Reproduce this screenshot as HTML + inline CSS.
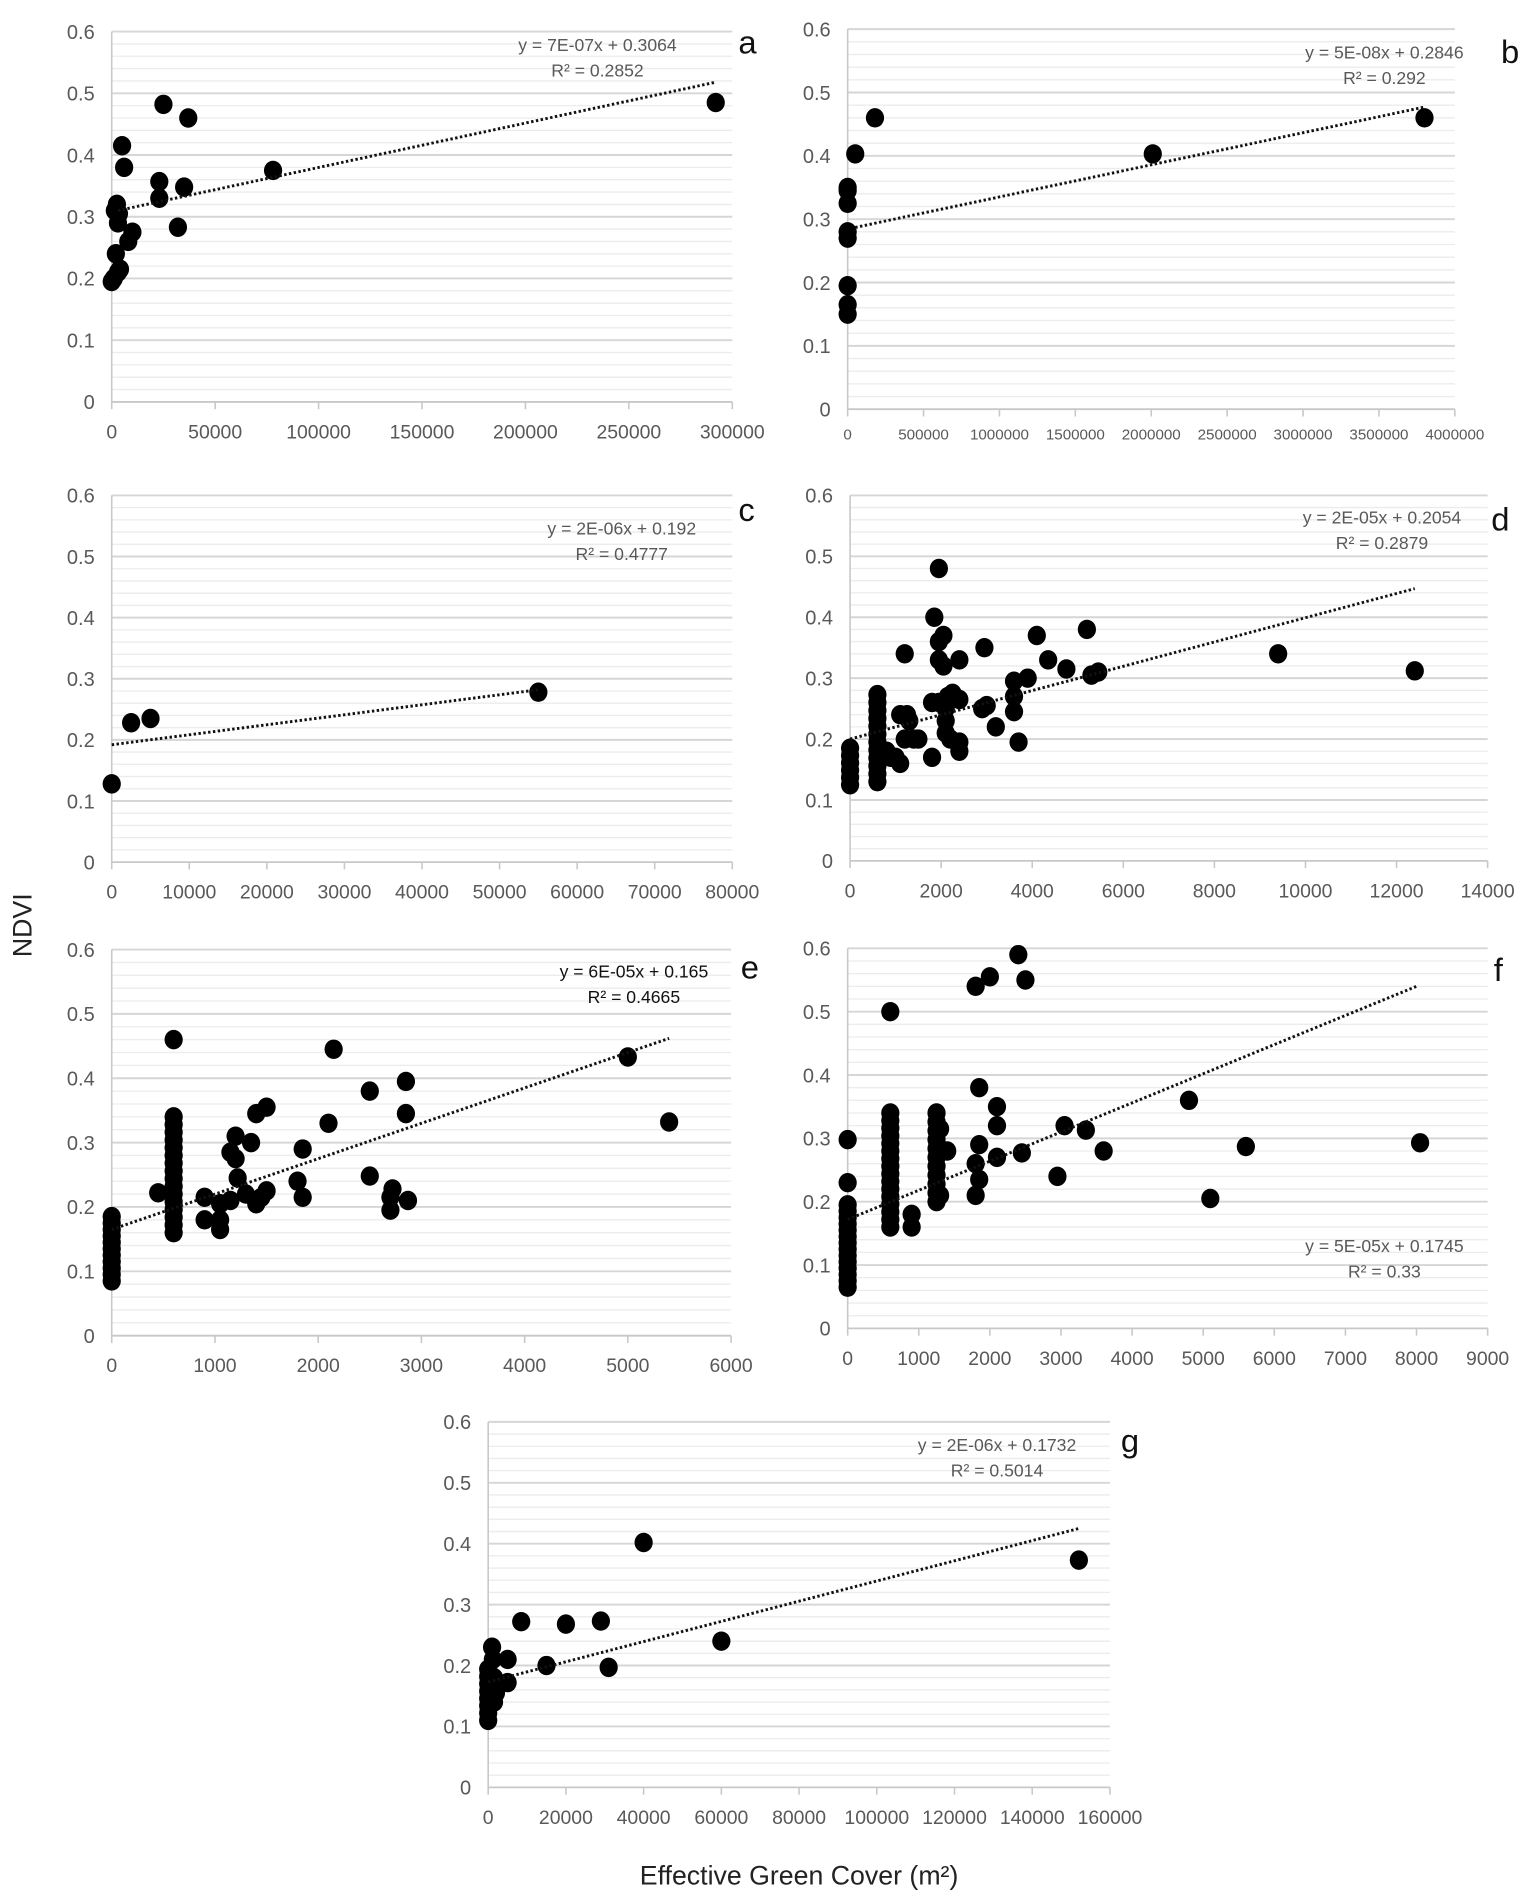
<!DOCTYPE html>
<html><head><meta charset="utf-8">
<style>
html,body{margin:0;padding:0;background:#fff;}
svg{display:block;}
text{font-family:"Liberation Sans",sans-serif;}
</style></head>
<body>
<svg id="s" width="1535" height="1893" viewBox="0 0 1264 1559" preserveAspectRatio="none" xmlns="http://www.w3.org/2000/svg">
<text x="0" y="0" transform="translate(26,762) rotate(-90)" font-size="22" fill="#222" text-anchor="middle">NDVI</text>
<text x="658" y="1552" font-size="22" fill="#222" text-anchor="middle">Effective Green Cover (m²)</text>
</svg>
<script>
var NS="http://www.w3.org/2000/svg",S=document.getElementById('s');
function el(t,a,txt){var e=document.createElementNS(NS,t);for(var k in a)e.setAttribute(k,a[k]);if(txt!=null)e.textContent=txt;S.appendChild(e);return e;}
function col(x,lo,hi,st){var r=[];for(var v=lo;v<=hi+1e-9;v+=st)r.push([x,v]);return r;}
var P=[
{x0:92,x1:603,y6:26,y0:331,xmax:300000,xs:50000,fs:16,eq:["y = 7E-07x + 0.3064","R² = 0.2852"],ex:492,ey:42,L:"a",lx:608,ly:44,
 tr:[3000,0.31,292000,0.518],
 pts:[[0,0.195],[1000,0.2],[2000,0.24],[1500,0.31],[2500,0.32],[3000,0.29],[3500,0.305],[3000,0.21],[4000,0.215],[5000,0.415],[6000,0.38],[8000,0.26],[10000,0.275],[23000,0.33],[23000,0.357],[25000,0.482],[32000,0.283],[35000,0.348],[37000,0.46],[78000,0.375],[292000,0.485]]},
{x0:698,x1:1198,y6:24,y0:337,xmax:4000000,xs:500000,fs:12.5,eq:["y = 5E-08x + 0.2846","R² = 0.292"],ex:1140,ey:48,L:"b",lx:1236,ly:52,
 tr:[50000,0.287,3800000,0.477],
 pts:[[0,0.15],[0,0.165],[0,0.195],[0,0.27],[0,0.28],[0,0.325],[0,0.345],[0,0.35],[50000,0.403],[180000,0.46],[2010000,0.403],[3800000,0.46]]},
{x0:92,x1:603,y6:408,y0:710,xmax:80000,xs:10000,fs:16,eq:["y = 2E-06x + 0.192","R² = 0.4777"],ex:512,ey:440,L:"c",lx:608,ly:429,
 tr:[0,0.192,55000,0.282],
 pts:[[0,0.128],[2500,0.228],[5000,0.235],[55000,0.278]]},
{x0:700,x1:1225,y6:408,y0:709,xmax:14000,xs:2000,fs:16,eq:["y = 2E-05x + 0.2054","R² = 0.2879"],ex:1138,ey:431,L:"d",lx:1228,ly:437,
 tr:[0,0.2,12400,0.447],
 pts:[].concat(col(0,0.125,0.195,0.012),col(600,0.13,0.285,0.013),[[800,0.18],[900,0.17],[1000,0.17],[1100,0.16],[1100,0.24],[1200,0.34],[1200,0.2],[1250,0.24],[1300,0.23],[1400,0.2],[1500,0.2],[1800,0.17],[1800,0.26],[1850,0.4],[1950,0.48],[1950,0.36],[1950,0.33],[1950,0.26],[2050,0.37],[2050,0.32],[2100,0.25],[2100,0.23],[2100,0.21],[2150,0.27],[2200,0.2],[2250,0.275],[2400,0.18],[2400,0.195],[2400,0.265],[2400,0.33],[2900,0.25],[2950,0.35],[3000,0.255],[3200,0.22],[3600,0.27],[3600,0.245],[3600,0.295],[3700,0.195],[3900,0.3],[4100,0.37],[4350,0.33],[4750,0.315],[5200,0.38],[5300,0.305],[5450,0.31],[9400,0.34],[12400,0.312]])},
{x0:92,x1:602,y6:782,y0:1100,xmax:6000,xs:1000,fs:16,eq:["y = 6E-05x + 0.165","R² = 0.4665"],ex:522,ey:805,dark:1,L:"e",lx:610,ly:806,
 tr:[0,0.165,5400,0.462],
 pts:[].concat(col(0,0.085,0.185,0.01),col(600,0.16,0.34,0.012),[[450,0.222],[600,0.46],[900,0.215],[900,0.18],[1050,0.165],[1050,0.18],[1050,0.205],[1150,0.21],[1150,0.285],[1200,0.31],[1200,0.275],[1220,0.245],[1300,0.22],[1350,0.3],[1400,0.205],[1400,0.345],[1450,0.215],[1500,0.355],[1500,0.225],[1800,0.24],[1850,0.29],[1850,0.215],[2100,0.33],[2150,0.445],[2500,0.38],[2500,0.248],[2700,0.215],[2700,0.195],[2720,0.228],[2850,0.395],[2850,0.345],[2870,0.21],[5000,0.433],[5400,0.332]])},
{x0:698,x1:1225,y6:781,y0:1094,xmax:9000,xs:1000,fs:16,eq:["y = 5E-05x + 0.1745","R² = 0.33"],ex:1140,ey:1031,L:"f",lx:1230,ly:808,
 tr:[0,0.172,8000,0.54],
 pts:[].concat(col(0,0.065,0.2,0.01),col(600,0.16,0.345,0.012),col(1250,0.2,0.34,0.014),[[0,0.23],[0,0.298],[600,0.5],[900,0.16],[900,0.18],[1300,0.21],[1300,0.315],[1400,0.28],[1800,0.21],[1800,0.26],[1800,0.54],[1850,0.38],[1850,0.29],[1850,0.235],[2000,0.555],[2100,0.35],[2100,0.32],[2100,0.27],[2400,0.59],[2500,0.55],[2450,0.277],[2950,0.24],[3050,0.32],[3350,0.313],[3600,0.28],[4800,0.36],[5100,0.205],[5600,0.287],[8050,0.293]])},
{x0:402,x1:914,y6:1171,y0:1472,xmax:160000,xs:20000,fs:16,eq:["y = 2E-06x + 0.1732","R² = 0.5014"],ex:821,ey:1195,L:"g",lx:923,ly:1196,
 tr:[0,0.173,152000,0.425],
 pts:[].concat(col(0,0.11,0.2,0.012),[[1000,0.23],[1200,0.21],[1500,0.14],[2000,0.155],[1500,0.18],[5000,0.21],[5000,0.172],[8500,0.272],[15000,0.2],[20000,0.268],[29000,0.273],[31000,0.197],[40000,0.402],[60000,0.24],[152000,0.373]])}
];
P.forEach(function(p){
 function X(v){return p.x0+(p.x1-p.x0)*v/p.xmax;}
 function Y(v){return p.y0+(p.y6-p.y0)*v/0.6;}
 for(var i=1;i<=30;i++){var y=Y(i*0.02);var maj=(i%5==0);
  el('line',{x1:p.x0,x2:p.x1,y1:y,y2:y,stroke:maj?'#d6d6d6':'#ececec','stroke-width':maj?1.6:1.1});}
 el('line',{x1:p.x0,x2:p.x0,y1:p.y6,y2:p.y0,stroke:'#c8c8c8','stroke-width':1.3});
 el('line',{x1:p.x0,x2:p.x1,y1:p.y0,y2:p.y0,stroke:'#c8c8c8','stroke-width':1.5});
 for(var i=0;i<=6;i++){el('text',{x:p.x0-14,y:Y(i/10)+6,'font-size':16.5,fill:'#595959','text-anchor':'end'},i==0?'0':(i/10).toFixed(1));}
 for(var v=0;v<=p.xmax+1e-6;v+=p.xs){var x=X(v);
  el('line',{x1:x,x2:x,y1:p.y0,y2:p.y0+6,stroke:'#c8c8c8','stroke-width':1.3});
  el('text',{x:x,y:p.y0+(p.fs>14?30:25),'font-size':p.fs,fill:'#595959','text-anchor':'middle'},String(v));}
 p.pts.forEach(function(q){el('ellipse',{cx:X(q[0]),cy:Y(q[1]),rx:7.5,ry:8,fill:'#000'});});
 el('line',{x1:X(p.tr[0]),y1:Y(p.tr[1]),x2:X(p.tr[2]),y2:Y(p.tr[3]),stroke:'#111','stroke-width':2.4,'stroke-dasharray':'2 2'});
 var c=p.dark?'#111':'#595959';
 el('text',{x:p.ex,y:p.ey,'font-size':14.5,fill:c,'text-anchor':'middle'},p.eq[0]);
 el('text',{x:p.ex,y:p.ey+21,'font-size':14.5,fill:c,'text-anchor':'middle'},p.eq[1]);
 el('text',{x:p.lx,y:p.ly,'font-size':27,fill:'#111'},p.L);
});
</script>
</body></html>
